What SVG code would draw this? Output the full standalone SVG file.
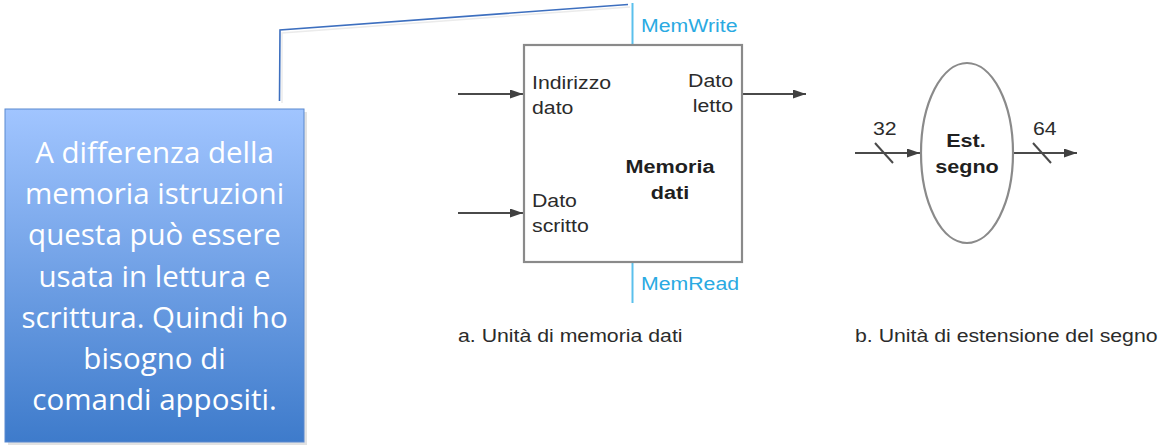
<svg xmlns="http://www.w3.org/2000/svg" width="1162" height="448" viewBox="0 0 1162 448">
<defs>
<linearGradient id="calloutGrad" x1="0" y1="0" x2="0" y2="1">
<stop offset="0" stop-color="#A1C5FF"/>
<stop offset="1" stop-color="#3E7BCB"/>
</linearGradient>
<marker id="arrow" markerUnits="userSpaceOnUse" markerWidth="13" markerHeight="9" refX="13" refY="4.5" orient="auto">
<path d="M0,0 L13,4.5 L0,9 z" fill="#404040"/>
</marker>
<style>
.wire{stroke:#4a4a4a;stroke-width:2;fill:none}
.ctrl{stroke:#5BC0EC;stroke-width:2;fill:none}
.shape{stroke:#8a8a8a;stroke-width:2.2;fill:#ffffff}
.lbl{font-family:"Liberation Sans",Arial,sans-serif;font-size:18.5px;fill:#2b2b2b}
.bold{font-family:"Liberation Sans",Arial,sans-serif;font-size:18.8px;font-weight:bold;fill:#1f1f1f}
.ctl{font-family:"Liberation Sans",Arial,sans-serif;font-size:18.5px;fill:#2AAAE2}
.note{font-family:"Open Sans","Liberation Sans",sans-serif;font-size:29.5px;fill:#ffffff;text-anchor:middle}
</style>
</defs>
<rect width="1162" height="448" fill="#ffffff"/>

<g id="callout">
<polyline points="282,103 282,33 630,7" fill="none" stroke="#ebebeb" stroke-width="1.5"/>
<polyline points="279.5,101 280,30 628,4.5" fill="none" stroke="#3D6FBF" stroke-width="1.6"/>
<rect x="8" y="112" width="299" height="333" fill="#cfcfcf" opacity="0.6"/>
<rect x="5" y="109" width="299" height="333" fill="url(#calloutGrad)" stroke="#5A89CF" stroke-width="1"/>
<text class="note" x="154.5" y="163">A differenza della</text>
<text class="note" x="154.5" y="204">memoria istruzioni</text>
<text class="note" x="154.5" y="245">questa può essere</text>
<text class="note" x="154.5" y="286.5">usata in lettura e</text>
<text class="note" x="154.5" y="327.5">scrittura. Quindi ho</text>
<text class="note" x="154.5" y="368.5">bisogno di</text>
<text class="note" x="154.5" y="409.5">comandi appositi.</text>
</g>

<g id="connectors">
<line class="ctrl" x1="632.5" y1="3" x2="632.5" y2="45"/>
<line class="ctrl" x1="632.5" y1="262" x2="632.5" y2="303"/>
<line class="wire" x1="458" y1="94" x2="523" y2="94" marker-end="url(#arrow)"/>
<line class="wire" x1="458" y1="213" x2="523" y2="213" marker-end="url(#arrow)"/>
<line class="wire" x1="742" y1="94" x2="806" y2="94" marker-end="url(#arrow)"/>
<line class="wire" x1="855" y1="153" x2="920" y2="153" marker-end="url(#arrow)"/>
<line class="wire" x1="1013" y1="153" x2="1077" y2="153" marker-end="url(#arrow)"/>
<line class="wire" x1="875" y1="143" x2="893" y2="163" stroke-width="1.6"/>
<line class="wire" x1="1033" y1="143" x2="1051" y2="163" stroke-width="1.6"/>
<text class="lbl" transform="translate(873,135) scale(1.15,1)">32</text>
<text class="lbl" transform="translate(1033,135) scale(1.15,1)">64</text>
<text class="ctl" transform="translate(641,32) scale(1.15,1)">MemWrite</text>
<text class="ctl" transform="translate(641,290) scale(1.15,1)">MemRead</text>
</g>

<g id="memoria-dati">
<rect class="shape" x="524" y="45" width="218" height="217"/>
<text class="lbl" transform="translate(532,89) scale(1.15,1)">Indirizzo</text>
<text class="lbl" transform="translate(532,114) scale(1.15,1)">dato</text>
<text class="lbl" text-anchor="end" transform="translate(733,87) scale(1.15,1)">Dato</text>
<text class="lbl" text-anchor="end" transform="translate(733,112) scale(1.15,1)">letto</text>
<text class="lbl" transform="translate(532,207) scale(1.15,1)">Dato</text>
<text class="lbl" transform="translate(532,232) scale(1.15,1)">scritto</text>
<text class="bold" text-anchor="middle" transform="translate(670,173) scale(1.15,1)">Memoria</text>
<text class="bold" text-anchor="middle" transform="translate(670,199) scale(1.15,1)">dati</text>
</g>

<g id="estensione-segno">
<ellipse class="shape" cx="967" cy="153" rx="46" ry="90"/>
<text class="bold" text-anchor="middle" transform="translate(966,147) scale(1.15,1)">Est.</text>
<text class="bold" text-anchor="middle" transform="translate(967,172.5) scale(1.15,1)">segno</text>
</g>

<g id="captions">
<text class="lbl" transform="translate(458,341.5) scale(1.15,1)">a. Unità di memoria dati</text>
<text class="lbl" transform="translate(855,341.5) scale(1.15,1)">b. Unità di estensione del segno</text>
</g>
</svg>
